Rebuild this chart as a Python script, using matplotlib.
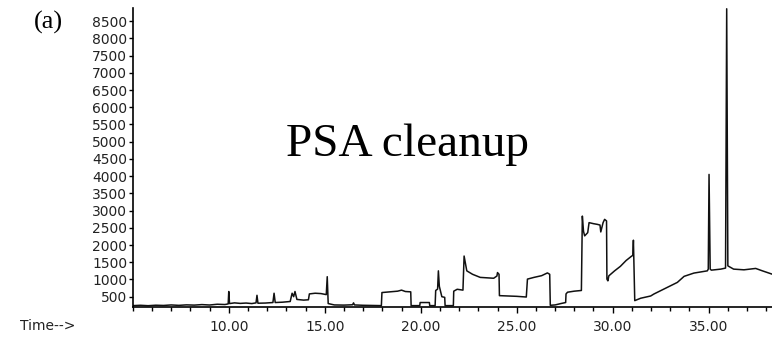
import matplotlib.pyplot as plt
from matplotlib.ticker import MultipleLocator, FixedLocator

# chromatogram trace (time in min, abundance)
time_min = [5.00, 5.40, 5.80, 6.20, 6.60, 7.00, 7.40, 7.80, 8.20, 8.60,
            9.00, 9.40, 9.80, 9.97, 10.00, 10.04, 10.30, 10.60, 10.90, 11.20,
            11.42, 11.47, 11.52, 11.90, 12.30, 12.36, 12.42, 12.80, 13.20, 13.30,
            13.38, 13.45, 13.55, 13.90, 14.15, 14.20, 14.50, 14.80, 15.08, 15.13,
            15.18, 15.50, 16.00, 16.45, 16.50, 16.55, 17.00, 17.50, 17.95, 17.98,
            18.40, 18.80, 19.00, 19.20, 19.48, 19.50, 19.95, 19.97, 20.45, 20.47,
            20.75, 20.78, 20.88, 20.92, 20.97, 21.10, 21.25, 21.27, 21.70, 21.72,
            21.90, 22.20, 22.26, 22.40, 22.70, 23.10, 23.50, 23.80, 23.97, 24.00,
            24.08, 24.10, 24.60, 25.00, 25.50, 25.56, 25.90, 26.30, 26.60, 26.72,
            26.75, 27.00, 27.30, 27.55, 27.57, 27.65, 28.00, 28.37, 28.42, 28.48,
            28.54, 28.70, 28.77, 29.00, 29.20, 29.34, 29.38, 29.50, 29.58, 29.68,
            29.70, 29.75, 29.80, 30.10, 30.40, 30.70, 30.97, 31.05, 31.08, 31.15,
            31.46, 31.98, 32.15, 32.85, 33.37, 33.72, 34.23, 34.93, 34.98, 35.02,
            35.08, 35.14, 35.63, 35.88, 35.94, 36.00, 36.30, 36.84, 37.45, 37.80,
            38.30]
abundance = [240, 250, 238, 252, 245, 260, 248, 262, 255, 270,
             258, 280, 272, 290, 650, 300, 320, 305, 315, 300,
             320, 540, 310, 315, 330, 600, 330, 340, 360, 600,
             500, 650, 420, 400, 410, 580, 600, 590, 560, 1080,
             300, 260, 255, 265, 320, 260, 250, 245, 240, 620,
             640, 660, 690, 650, 640, 240, 240, 330, 330, 240,
             240, 680, 720, 1250, 800, 500, 480, 240, 240, 660,
             715, 690, 1680, 1250, 1150, 1060, 1045, 1035, 1100, 1200,
             1150, 530, 520, 510, 490, 1010, 1060, 1110, 1190, 1150,
             250, 260, 300, 330, 580, 630, 660, 680, 2840, 2400,
             2265, 2360, 2650, 2620, 2600, 2580, 2380, 2650, 2745, 2700,
             1010, 960, 1105, 1250, 1380, 1550, 1670, 1700, 2140, 385,
             455, 520, 578, 770, 915, 1090, 1185, 1250, 1300, 4050,
             1300, 1270, 1300, 1330, 8860, 1395, 1300, 1280, 1320, 1250,
             1155]

y_ticks = list(range(500, 9000, 500))
x_major = [10, 15, 20, 25, 30, 35]

plt.rcParams['font.family'] = ['DejaVu Sans']

fig = plt.figure(figsize=(7.72, 3.37), dpi=100)
ax = fig.add_axes([0.172, 0.089, 0.828, 0.887])

ax.plot(time_min, abundance, color='#111111', linewidth=1.1)

ax.set_xlim(5.0, 38.3)
ax.set_ylim(200, 8880)

ax.xaxis.set_major_locator(FixedLocator(x_major))
ax.xaxis.set_minor_locator(MultipleLocator(1))
ax.set_xticklabels(['%.2f' % v for v in x_major])
ax.yaxis.set_major_locator(FixedLocator(y_ticks))

ax.tick_params(axis='x', which='major', direction='out', length=4, width=1,
               pad=5, labelsize=10, labelcolor='#222222')
ax.tick_params(axis='x', which='minor', direction='out', length=3, width=1)
ax.tick_params(axis='y', direction='out', length=3, width=1, pad=1,
               labelsize=10, labelcolor='#222222')

for side in ['top', 'right']:
    ax.spines[side].set_visible(False)
for side in ['left', 'bottom']:
    ax.spines[side].set_linewidth(1.2)

fig.text(20 / 772, 1 - 326 / 337, 'Time-->', fontsize=10, color='#222222',
         ha='left', va='center')
fig.text(34 / 772, 1 - 22 / 337, '(a)', fontsize=19, family='Liberation Serif',
         ha='left', va='center')
fig.text(407 / 772, 1 - 156 / 337, 'PSA cleanup', fontsize=34,
         family='Liberation Serif', ha='center', va='baseline')

fig.savefig('out.png', dpi=100)
